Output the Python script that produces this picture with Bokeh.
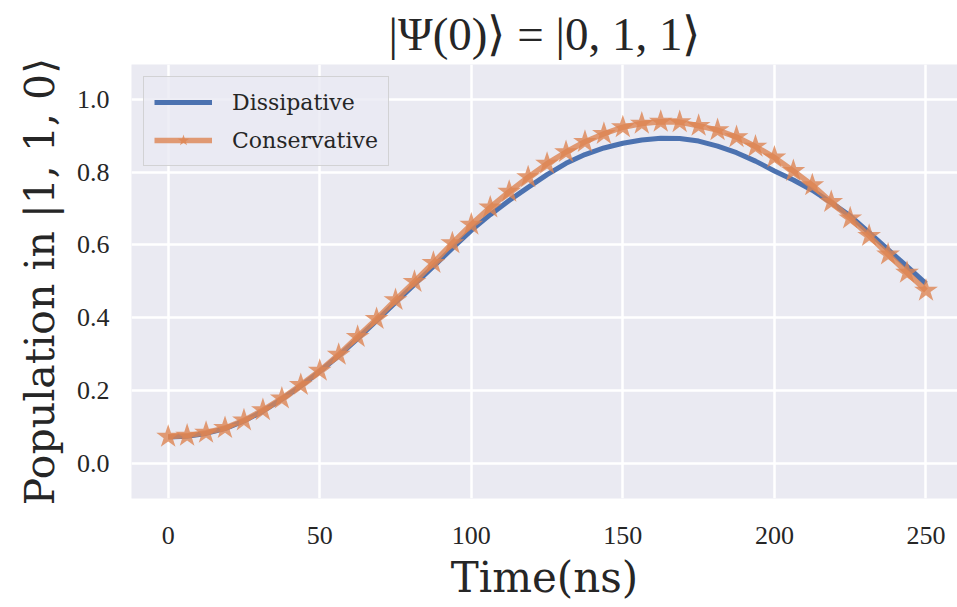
from bokeh.plotting import figure
from bokeh.models import FixedTicker, PrintfTickFormatter, Range1d, Legend, LegendItem
from bokeh.embed import file_html
from bokeh.resources import INLINE

# Time (ns)
time_ns = [0, 6.25, 12.5, 18.75, 25, 31.25, 37.5, 43.75, 50, 56.25, 62.5, 68.75, 75,
           81.25, 87.5, 93.75, 100, 106.25, 112.5, 118.75, 125, 131.25, 137.5, 143.75,
           150, 156.25, 162.5, 168.75, 175, 181.25, 187.5, 193.75, 200, 206.25, 212.5,
           218.75, 225, 231.25, 237.5, 243.75, 250]

dissipative = [0.073, 0.075, 0.083, 0.096, 0.117, 0.144, 0.177, 0.213, 0.253, 0.296,
               0.343, 0.392, 0.442, 0.492, 0.541, 0.591, 0.640, 0.683, 0.722, 0.758,
               0.793, 0.824, 0.848, 0.866, 0.879, 0.888, 0.893, 0.892, 0.885, 0.871,
               0.853, 0.830, 0.803, 0.778, 0.750, 0.716, 0.680, 0.634, 0.587, 0.541,
               0.494]

conservative = [0.074, 0.077, 0.085, 0.098, 0.119, 0.147, 0.179, 0.216, 0.255, 0.299,
                0.348, 0.397, 0.449, 0.499, 0.551, 0.605, 0.656, 0.703, 0.746, 0.786,
                0.823, 0.855, 0.883, 0.905, 0.923, 0.933, 0.938, 0.937, 0.927, 0.915,
                0.896, 0.870, 0.840, 0.803, 0.764, 0.718, 0.673, 0.625, 0.574, 0.524,
                0.475]

x_ticks = [0, 50, 100, 150, 200, 250]
y_ticks = [0.0, 0.2, 0.4, 0.6, 0.8, 1.0]

BG = "#EAEAF2"
BLUE = "#4C72B0"
ORANGE = "#DD8452"
TEXT = "#262626"

p = figure(width=957, height=607, output_backend="svg", toolbar_location=None,
           x_range=Range1d(-12.1, 260.4), y_range=Range1d(-0.0955, 1.095),
           min_border_left=131, min_border_right=0, min_border_top=61,
           min_border_bottom=109)

p.background_fill_color = BG
p.border_fill_color = "white"
p.outline_line_color = None

p.title.text = "|Ψ(0)⟩ = |0, 1, 1⟩"
p.title.text_font = "Liberation Serif"
p.title.text_font_size = "47px"
p.title.text_font_style = "normal"
p.title.text_color = TEXT
p.title.align = "center"

for ax in (p.xaxis, p.yaxis):
    ax.axis_line_color = None
    ax.major_tick_line_color = None
    ax.minor_tick_line_color = None
    ax.major_tick_in = 0
    ax.major_tick_out = 0
    ax.major_label_text_font = "Liberation Serif"
    ax.major_label_text_font_size = "26px"
    ax.major_label_text_color = TEXT
    ax.axis_label_text_font = "DejaVu Serif"
    ax.axis_label_text_font_style = "normal"
    ax.axis_label_text_color = TEXT

p.xaxis.ticker = FixedTicker(ticks=x_ticks)
p.yaxis.ticker = FixedTicker(ticks=y_ticks)
p.yaxis.formatter = PrintfTickFormatter(format="%.1f")
p.xaxis.major_label_standoff = 28
p.yaxis.major_label_standoff = 22
p.xaxis.axis_label = "Time(ns)"
p.yaxis.axis_label = "Population in |1, 1, 0⟩"
p.xaxis.axis_label_text_font_size = "42px"
p.yaxis.axis_label_text_font_size = "41px"
p.xaxis.axis_label_standoff = 6
p.yaxis.axis_label_standoff = 10

p.xgrid.ticker = FixedTicker(ticks=x_ticks)
p.ygrid.ticker = FixedTicker(ticks=y_ticks)
for g in (p.xgrid, p.ygrid):
    g.grid_line_color = "white"
    g.grid_line_width = 2.5

r_d = p.line(time_ns, dissipative, line_color=BLUE, line_width=5)
r_c = p.line(time_ns, conservative, line_color=ORANGE, line_width=5.5, line_alpha=0.8)
r_s = p.scatter(time_ns, conservative, marker="star", size=25, fill_color=ORANGE,
                line_color=ORANGE, fill_alpha=0.8, line_alpha=0.0)

legend = Legend(items=[LegendItem(label="Dissipative", renderers=[r_d]),
                       LegendItem(label="Conservative", renderers=[r_c, r_s])],
                location="top_left", margin=12, padding=10, spacing=8,
                glyph_width=58, glyph_height=30, label_height=30, label_standoff=20,
                label_text_font="DejaVu Serif", label_text_font_size="22px",
                label_text_color=TEXT,
                background_fill_color=BG, background_fill_alpha=0.8,
                border_line_color="#CCCCCC", border_line_width=1.5, border_line_alpha=0.8)
p.add_layout(legend)

open("out.html", "w").write(file_html(p, INLINE))
